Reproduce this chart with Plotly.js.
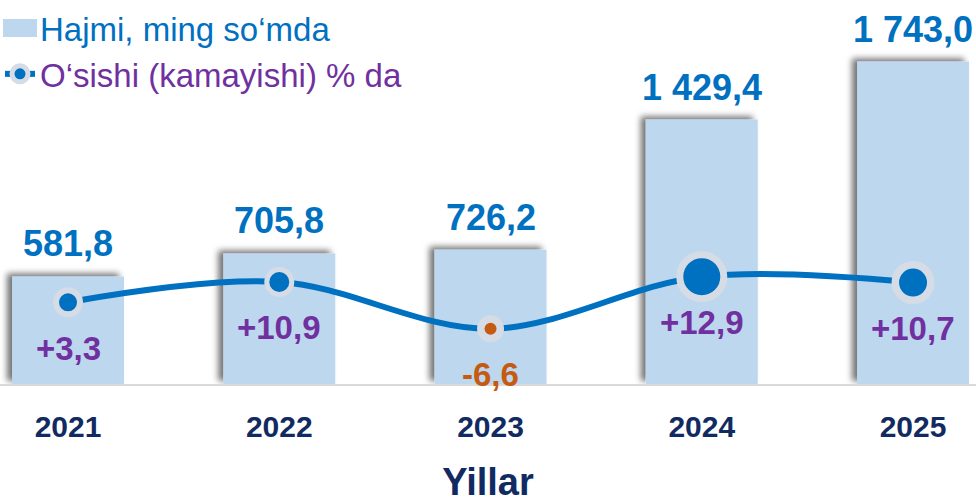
<!DOCTYPE html>
<html>
<head>
<meta charset="utf-8">
<script src="https://cdn.plot.ly/plotly-3.0.1.min.js"></script>
<style>
  html, body { margin: 0; padding: 0; background: #ffffff; }
  #chart { width: 976px; height: 503px; }
</style>
</head>
<body>
<div id="chart"></div>
<script>
// ---- data ----
const years = ['2021', '2022', '2023', '2024', '2025'];
const volume = [581.8, 705.8, 726.2, 1429.4, 1743.0];      // Hajmi, ming so‘mda
const growth = [3.3, 10.9, -6.6, 12.9, 10.7];               // O‘sishi (kamayishi) % da
const seriesNames = ['Hajmi, ming so‘mda', 'O‘sishi (kamayishi) % da'];
const axisTitle = 'Yillar';

// ---- helpers ----
function fmtVolume(v) {
  const s = v.toFixed(1).split('.');
  const intPart = s[0].replace(/\B(?=(\d{3})+(?!\d))/g, ' ');
  return intPart + ',' + s[1];
}
function fmtGrowth(v) {
  return (v > 0 ? '+' : '') + v.toFixed(1).replace('.', ',');
}

const BLUE = '#0070c0';
const PURPLE = '#7030a0';
const ORANGE = '#c55a11';
const NAVY = '#112b62';
const FONT = 'Arial, Liberation Sans, sans-serif';

const barTrace = {
  type: 'bar',
  name: seriesNames[0],
  x: years,
  y: volume,
  width: 0.53,
  marker: { color: '#bdd7ee', line: { width: 0 } },
  hoverinfo: 'skip'
};

const lineTrace = {
  type: 'scatter',
  mode: 'lines+markers',
  name: '<span style="color:' + PURPLE + '">' + seriesNames[1] + '</span>',
  x: years,
  y: growth,
  yaxis: 'y2',
  line: { color: BLUE, width: 6, shape: 'spline', smoothing: 1 },
  marker: {
    color: growth.map(v => v < 0 ? ORANGE : BLUE),
    size: [24, 25, 19.5, 44, 35.5],
    opacity: 1,
    line: { color: '#d6dce5', width: [6, 5, 7.5, 7, 7.5] }
  },
  cliponaxis: false,
  hoverinfo: 'skip'
};

const annotations = [];
years.forEach((yr, i) => {
  annotations.push({
    x: i, y: volume[i], xref: 'x', yref: 'y',
    text: '<b>' + fmtVolume(volume[i]) + '</b>',
    showarrow: false, yanchor: 'bottom', xanchor: 'center', yshift: 10,
    font: { family: FONT, size: 36, color: BLUE }
  });
  annotations.push({
    x: i, y: growth[i], xref: 'x', yref: 'y2',
    text: '<b>' + fmtGrowth(growth[i]) + '</b>',
    showarrow: false, yanchor: 'middle', xanchor: 'center', yshift: -46,
    font: { family: FONT, size: 33, color: growth[i] < 0 ? ORANGE : PURPLE }
  });
});

const layout = {
  width: 976,
  height: 503,
  margin: { l: 0, r: 0, t: 0, b: 119, pad: 0 },
  paper_bgcolor: '#ffffff',
  plot_bgcolor: '#ffffff',
  font: { family: FONT },
  showlegend: true,
  legend: {
    x: 0, y: 1, xanchor: 'left', yanchor: 'top',
    bgcolor: 'rgba(0,0,0,0)',
    font: { family: FONT, size: 33, color: BLUE },
    tracegroupgap: 0
  },
  xaxis: {
    type: 'category',
    range: [-0.322, 4.298],
    showgrid: false, zeroline: false,
    showline: true, linecolor: '#d9d9d9', linewidth: 2,
    ticks: '',
    ticklabelstandoff: 15,
    tickfont: { family: FONT, size: 30, color: NAVY, weight: 'bold' },
    title: { text: axisTitle, standoff: 44, font: { family: FONT, size: 38, color: NAVY, weight: 'bold' } }
  },
  yaxis: {
    range: [0, 2076],
    showticklabels: false, showgrid: false, zeroline: false, showline: false, ticks: ''
  },
  yaxis2: {
    overlaying: 'y', side: 'right',
    range: [-27.3, 116.5],
    showticklabels: false, showgrid: false, zeroline: false, showline: false, ticks: ''
  },
  annotations: annotations
};

const gd = document.getElementById('chart');
Plotly.newPlot(gd, [barTrace, lineTrace], layout, { displayModeBar: false, staticPlot: true }).then(function () {
  const ns = 'http://www.w3.org/2000/svg';
  const svg = gd.querySelector('svg.main-svg');
  let defs = svg.querySelector('defs');
  if (!defs) { defs = document.createElementNS(ns, 'defs'); svg.insertBefore(defs, svg.firstChild); }
  const f = document.createElementNS(ns, 'filter');
  f.setAttribute('id', 'barShadow');
  f.setAttribute('x', '-20%'); f.setAttribute('y', '-20%');
  f.setAttribute('width', '140%'); f.setAttribute('height', '140%');
  const ds = document.createElementNS(ns, 'feDropShadow');
  ds.setAttribute('dx', '-5'); ds.setAttribute('dy', '-3');
  ds.setAttribute('stdDeviation', '3');
  ds.setAttribute('flood-color', '#000'); ds.setAttribute('flood-opacity', '0.55');
  f.appendChild(ds);
  defs.appendChild(f);
  gd.querySelectorAll('.barlayer .point path').forEach(p => p.setAttribute('filter', 'url(#barShadow)'));
  const legendTraces = gd.querySelectorAll('.legend .traces');
  if (legendTraces.length) {
    const p = legendTraces[0].querySelector('.legendpoints path');
    if (p) p.setAttribute('d', 'M-17,9H17V-9H-17Z');
  }
});
</script>
</body>
</html>
